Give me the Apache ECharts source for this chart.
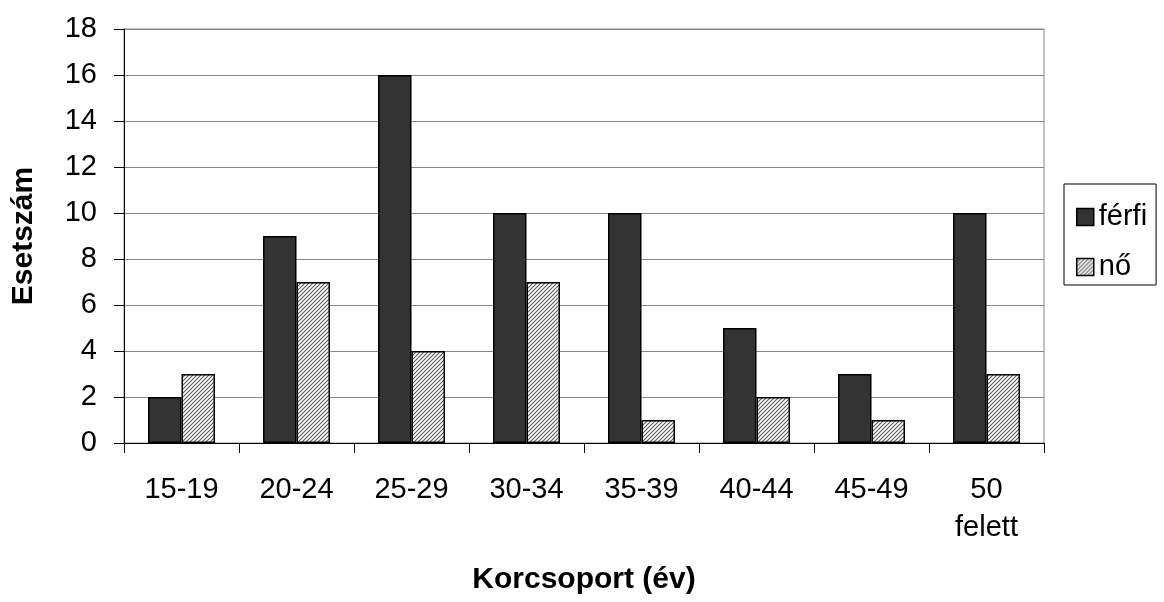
<!DOCTYPE html>
<html>
<head>
<meta charset="utf-8">
<script src="https://cdn.jsdelivr.net/npm/echarts@6/dist/echarts.min.js"></script>
<style>html,body{margin:0;padding:0;background:#fff}#c{width:1164px;height:602px}</style>
</head>
<body>
<div id="c"></div>
<script>
const categories = ['15-19', '20-24', '25-29', '30-34', '35-39', '40-44', '45-49', '50\nfelett'];
const ferfi = [2, 9, 16, 10, 10, 5, 3, 10];
const no = [3, 7, 4, 7, 1, 2, 1, 3];
const yTicks = [0, 2, 4, 6, 8, 10, 12, 14, 16, 18];

function hatch() {
  const cv = document.createElement('canvas');
  cv.width = 4; cv.height = 4;
  const ctx = cv.getContext('2d');
  ctx.fillStyle = '#ffffff';
  ctx.fillRect(0, 0, 4, 4);
  ctx.strokeStyle = '#5a5a5a';
  ctx.lineWidth = 1.1;
  ctx.beginPath();
  ctx.moveTo(0, 4); ctx.lineTo(4, 0);
  ctx.moveTo(-1, 1); ctx.lineTo(1, -1);
  ctx.moveTo(3, 5); ctx.lineTo(5, 3);
  ctx.stroke();
  return {image: cv, repeat: 'repeat'};
}
const pat = hatch();
const font = '"Liberation Sans", Arial, sans-serif';
const chart = echarts.init(document.getElementById('c'), null, {renderer: 'canvas'});
chart.setOption({
  animation: false,
  textStyle: {fontFamily: font},
  grid: {left: 124, right: 120, top: 29, bottom: 159, show: true, borderColor: '#888', borderWidth: 1},
  legend: {
    orient: 'vertical', left: 1064, top: 184,
    icon: 'rect',
    itemWidth: 17, itemHeight: 17, itemGap: 20,
    padding: [18, 9, 3, 12],
    borderColor: '#000', borderWidth: 1,
    textStyle: {fontSize: 29, lineHeight: 30, color: '#000', fontFamily: font},
    data: [
      {name: 'férfi', itemStyle: {color: '#333333', borderColor: '#000', borderWidth: 1.5}},
      {name: 'nő', itemStyle: {color: pat, borderColor: '#000', borderWidth: 1.5}}
    ]
  },
  xAxis: {
    type: 'category', data: categories,
    axisLine: {lineStyle: {color: '#000', width: 1}},
    axisTick: {show: true, length: 10, lineStyle: {color: '#000'}},
    axisLabel: {fontSize: 29, color: '#000', margin: 28, lineHeight: 38, fontFamily: font},
    splitLine: {show: false}
  },
  yAxis: {
    type: 'value', min: 0, max: 18, interval: 2,
    axisLine: {show: true, lineStyle: {color: '#000', width: 1}},
    axisTick: {show: true, length: 10, lineStyle: {color: '#000'}},
    axisLabel: {fontSize: 29, color: '#000', margin: 27, fontFamily: font},
    splitLine: {show: true, lineStyle: {color: '#888', width: 1}}
  },
  series: [
    {name: 'férfi', type: 'bar', data: ferfi, barWidth: 33.5, barGap: '0%',
     itemStyle: {color: '#333333', borderColor: '#000', borderWidth: 1.5}},
    {name: 'nő', type: 'bar', data: no, barWidth: 33.5, barGap: '0%',
     itemStyle: {color: pat, borderColor: '#000', borderWidth: 1.5}}
  ],
  graphic: [
    {type: 'text', x: 24, y: 236, rotation: Math.PI / 2,
     style: {text: 'Esetszám', font: 'bold 30px ' + font, fill: '#000', align: 'center', verticalAlign: 'middle'}},
    {type: 'text', x: 584, y: 580,
     style: {text: 'Korcsoport (év)', font: 'bold 30px ' + font, fill: '#000', align: 'center', verticalAlign: 'middle'}}
  ]
});
</script>
</body>
</html>
